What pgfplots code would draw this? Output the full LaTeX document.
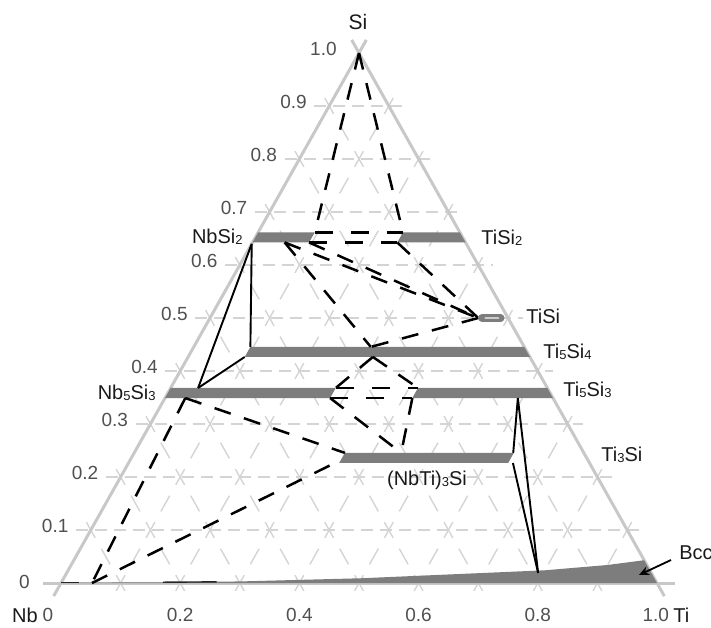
\documentclass[border=0pt]{standalone}
\usepackage{fontspec}
\setmainfont{Liberation Sans}
\usepackage{pgfplots}
\pgfplotsset{compat=1.18}
\usetikzlibrary{arrows.meta}
\definecolor{bandc}{RGB}{125,125,125}
\definecolor{edgec}{RGB}{200,200,200}
\definecolor{gridc}{RGB}{212,212,212}
\definecolor{tickc}{RGB}{80,80,80}
\definecolor{labc}{RGB}{25,25,25}
\pgfplotsset{table/tern/.style={x expr=\thisrow{t}+0.5*\thisrow{s},y expr=\thisrow{s}}}
\newcommand\seg[3]{\addplot[#1] table[tern,row sep=\\]{t s\\#2\\#3\\};}
\newcommand\sub[1]{\raisebox{-0.6pt}{\fontsize{6.5}{7}\selectfont #1}}
\begin{document}
\begin{tikzpicture}[
 tickl/.style={font=\fontsize{9.5}{11}\selectfont,text=tickc,inner sep=0pt},
 phl/.style={font=\fontsize{10}{12}\selectfont,text=labc,inner sep=0pt},
 dl/.style={black,line width=1.25pt,dash pattern=on 8.5pt off 7pt},
 dd/.style={black,line width=1.25pt,dash pattern=on 9pt off 9pt},
 sl/.style={black,line width=0.95pt},
 gs/.style={gridc,line width=0.7pt,dash pattern=on 9pt off 6.2pt,dash phase=12.2pt},
 gh/.style={gridc,line width=0.75pt,dash pattern=on 6pt off 3.5pt},
 bandfill/.style={fill=bandc,draw=none}]
\useasboundingbox (0,0) rectangle (355.5pt,313.5pt);
\clip (0,0) rectangle (355.5pt,313.5pt);
\begin{axis}[at={(0,0)},anchor=south west,scale only axis,width=355.5pt,height=313.5pt,
 xmin=-0.10235,xmax=1.09060,ymin=-0.0830,ymax=1.1,hide axis]
% ---- ternary grid ----
\pgfplotsinvokeforeach{1,...,9}{
 \draw[gh] (axis cs:{#1*0.05-0.025},{#1*0.1}) -- (axis cs:{1-#1*0.05+0.025},{#1*0.1});
 \draw[gs] (axis cs:{#1*0.1-0.0123},-0.0247) -- (axis cs:{#1*0.1+(1-#1*0.1)/2+0.0123},{1-#1*0.1+0.0247});
 \draw[gs] (axis cs:{#1*0.1+0.0123},-0.0247) -- (axis cs:{#1*0.05-0.0123},{#1*0.1+0.0247});
}
% ---- triangle edges ----
\draw[edgec,line width=1.5pt] (axis cs:-0.03,0) -- (axis cs:1.03,0);
\draw[edgec,line width=1.5pt] (axis cs:-0.0123,-0.0247) -- (axis cs:0.5123,1.0247);
\draw[edgec,line width=1.5pt] (axis cs:1.0123,-0.0247) -- (axis cs:0.4877,1.0247);
% ---- Bcc region (t = Ti fraction, s = Si fraction) ----
\addplot[bandfill] table[tern] {
t s
0 0
1 0
0.957 0.043
0.9 0.034
0.8 0.024
0.7 0.019
0.6 0.014
0.5 0.009
0.4 0.006
0.3 0.003
0.2 0.0015
0.05 0.0008
};
\seg{black!85,line width=0.7pt}{0 0.0008}{0.03 0.0008}
\seg{black!85,line width=0.7pt}{0.17 0.0015}{0.26 0.0022}
% ---- phase bands ----
\addplot[bandfill] table[tern] {
t s
0 0.6425
0.095 0.6425
0.095 0.6615
0 0.6615
};
\addplot[bandfill] table[tern] {
t s
0.243 0.6425
0.3575 0.6425
0.3385 0.6615
0.243 0.6615
};
\addplot[bandfill] table[tern] {
t s
0.095 0.4265
0.5735 0.4265
0.5545 0.4455
0.095 0.4455
};
\addplot[bandfill] table[tern] {
t s
0 0.349
0.277 0.349
0.277 0.368
0 0.368
};
\addplot[bandfill] table[tern] {
t s
0.415 0.349
0.651 0.349
0.632 0.368
0.415 0.368
};
\addplot[bandfill] table[tern] {
t s
0.3535 0.2265
0.637 0.2265
0.637 0.2455
0.3535 0.2455
};
\seg{bandc,line width=3.6pt,line cap=round}{0.456 0.5}{0.488 0.5}
\seg{gray!40,line width=1pt,line cap=round}{0.462 0.5}{0.484 0.5}
% ---- dashed tie lines ----
\seg{dl}{0 1}{0.095 0.6615}
\seg{dl}{0 1}{0.243 0.6615}
\seg{dd}{0.095 0.6615}{0.243 0.6615}
\seg{dd}{0.095 0.6425}{0.243 0.6425}
\seg{dl}{0.054 0.6425}{0.45 0.5}
\seg{dl}{0.095 0.6425}{0.45 0.5}
\seg{dl}{0.243 0.6425}{0.45 0.5}
\seg{dl}{0.45 0.5}{0.297 0.4455}
\seg{dl}{0.054 0.6425}{0.297 0.4455}
\seg{dl}{0.31 0.4265}{0.277 0.368}
\seg{dl}{0.31 0.4265}{0.415 0.368}
\seg{dl}{0.277 0.349}{0.448 0.2455}
\seg{dl}{0.415 0.349}{0.448 0.2455}
\seg{dd}{0.277 0.368}{0.415 0.368}
\seg{dd}{0.277 0.349}{0.415 0.349}
\seg{dl}{0.034 0.349}{0.052 0}
\seg{dl}{0.034 0.349}{0.3535 0.2455}
\seg{dl}{0.052 0}{0.3535 0.232}
% ---- solid tie lines ----
\seg{sl}{0 0.64}{0.046 0.368}
\seg{sl}{0 0.64}{0.095 0.4455}
\seg{sl}{0.095 0.4265}{0.046 0.368}
\seg{sl}{0.592 0.349}{0.636 0.2455}
\seg{sl}{0.645 0.2265}{0.791 0.019}
\seg{sl}{0.592 0.349}{0.791 0.019}
% ---- axis labels ----
\node[font=\fontsize{10.5}{12}\selectfont,text=labc,inner sep=0pt] at (axis cs:0.4983,1.0585) {Si};
\node[tickl,anchor=east] at (axis cs:0.4631,1.0075) {1.0};
\node[tickl,anchor=east] at (axis cs:0.4131,0.9075) {0.9};
\node[tickl,anchor=east] at (axis cs:0.3631,0.8075) {0.8};
\node[tickl,anchor=east] at (axis cs:0.3131,0.7075) {0.7};
\node[tickl,anchor=east] at (axis cs:0.2631,0.6075) {0.6};
\node[tickl,anchor=east] at (axis cs:0.2131,0.5075) {0.5};
\node[tickl,anchor=east] at (axis cs:0.1631,0.4075) {0.4};
\node[tickl,anchor=east] at (axis cs:0.1131,0.3075) {0.3};
\node[tickl,anchor=east] at (axis cs:0.0631,0.2075) {0.2};
\node[tickl,anchor=east] at (axis cs:0.0131,0.1075) {0.1};
\node[tickl,anchor=east] at (axis cs:-0.052,0.002) {0};
\node[tickl] at (axis cs:-0.0218,-0.0604) {0};
\node[phl] at (axis cs:-0.0604,-0.0604) {Nb};
\node[tickl] at (axis cs:0.2,-0.0604) {0.2};
\node[tickl] at (axis cs:0.4,-0.0604) {0.4};
\node[tickl] at (axis cs:0.6,-0.0604) {0.6};
\node[tickl] at (axis cs:0.8,-0.0604) {0.8};
\node[tickl] at (axis cs:0.998,-0.0604) {1.0};
\node[phl,anchor=west] at (axis cs:1.0268,-0.0604) {Ti};
% ---- phase labels ----
\node[phl,anchor=east] at (axis cs:0.3054,0.6528) {NbSi\sub{2}};
\node[phl,anchor=west] at (axis cs:0.7047,0.6509) {TiSi\sub{2}};
\node[phl,anchor=west] at (axis cs:0.7802,0.5038) {TiSi};
\node[phl,anchor=west] at (axis cs:0.8087,0.4358) {Ti\sub{5}Si\sub{4}};
\node[phl,anchor=west] at (axis cs:0.8423,0.3642) {Ti\sub{5}Si\sub{3}};
\node[phl,anchor=west] at (axis cs:0.9060,0.2415) {Ti\sub{3}Si};
\node[phl,anchor=east] at (axis cs:0.1594,0.3585) {Nb\sub{5}Si\sub{3}};
\node[phl] at (axis cs:0.6141,0.1943) {(NbTi)\sub{3}Si};
\node[phl,anchor=west] at (axis cs:1.0369,0.0566) {Bcc};
\draw[-{Stealth[length=5pt,width=4.5pt]},line width=0.9pt] (axis cs:1.0235,0.0434) -- (axis cs:0.9698,0.0151);
\end{axis}
\end{tikzpicture}
\end{document}
